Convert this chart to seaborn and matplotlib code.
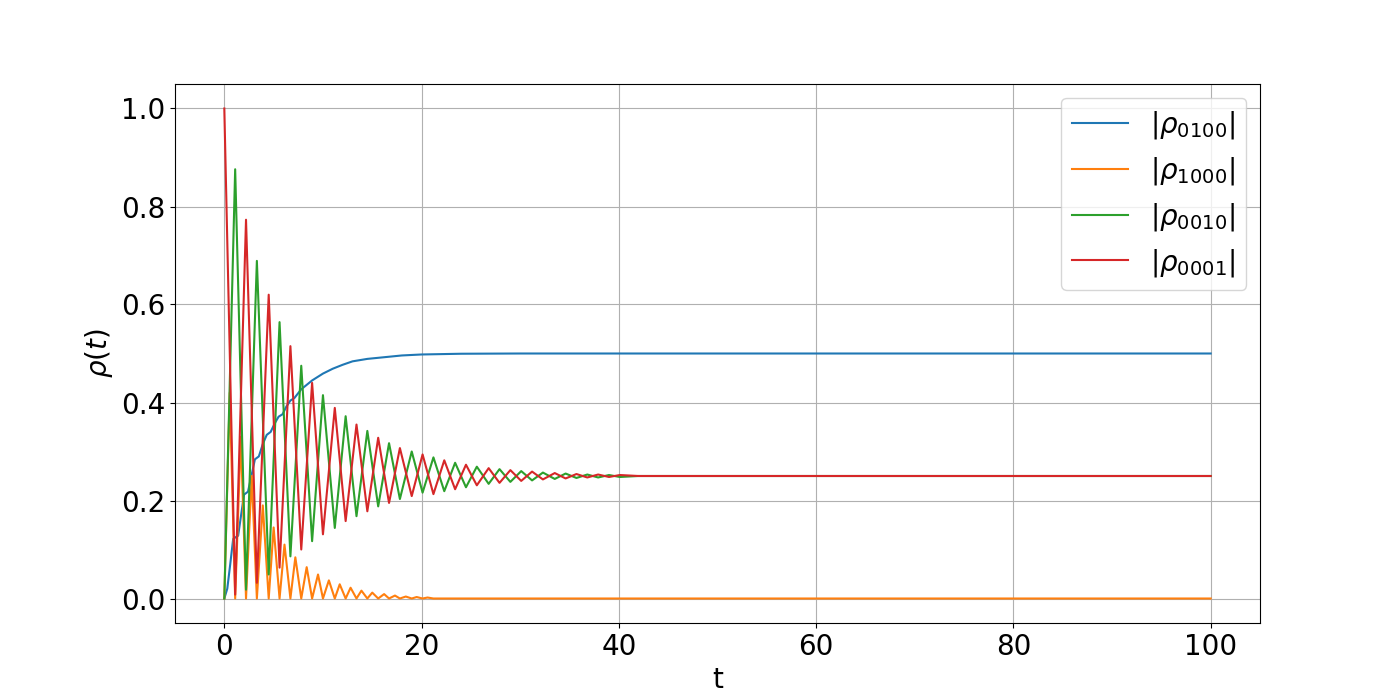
import matplotlib
matplotlib.use("Agg")
import matplotlib.pyplot as plt
import seaborn as sns
import pandas as pd

# extrema of the red / green oscillation (half period apart)
t_osc = [0, 1.1, 2.2, 3.3, 4.5, 5.6, 6.7, 7.8, 8.9, 10.0, 11.2, 12.3, 13.4, 14.5,
         15.6, 16.7, 17.8, 19.0, 20.1, 21.2, 22.3, 23.4, 24.5, 25.6, 26.8, 27.9,
         29.0, 30.1, 31.2, 32.3, 33.5, 34.6, 35.7, 36.8, 37.9, 39.0, 40.1, 42.0, 100]
rho_0001 = [1.000, 0.008, 0.773, 0.032, 0.620, 0.063, 0.515, 0.100, 0.440, 0.131,
            0.389, 0.158, 0.355, 0.178, 0.328, 0.195, 0.307, 0.209, 0.294, 0.213,
            0.282, 0.223, 0.273, 0.231, 0.266, 0.236, 0.262, 0.240, 0.259, 0.243,
            0.256, 0.245, 0.254, 0.247, 0.253, 0.248, 0.252, 0.250, 0.250]
rho_0010 = [0.000, 0.876, 0.018, 0.689, 0.049, 0.564, 0.086, 0.475, 0.117, 0.415,
            0.144, 0.372, 0.168, 0.342, 0.188, 0.317, 0.203, 0.300, 0.216, 0.288,
            0.219, 0.277, 0.227, 0.269, 0.234, 0.264, 0.238, 0.260, 0.241, 0.257,
            0.244, 0.255, 0.246, 0.253, 0.247, 0.252, 0.248, 0.250, 0.250]

# |rho_1000|: bounces off zero, peaks in between
t_1000 = [0, 0.55, 1.1, 1.67, 2.2, 2.78, 3.3, 3.9, 4.5, 5.0, 5.6, 6.1, 6.7, 7.2,
          7.8, 8.35, 8.9, 9.5, 10.0, 10.6, 11.2, 11.7, 12.3, 12.8, 13.4, 13.9,
          14.5, 15.0, 15.6, 16.2, 16.7, 17.3, 17.8, 18.4, 19.0, 19.5, 20.1, 20.6,
          21.2, 100]
rho_1000 = [0, 0.42, 0, 0.33, 0, 0.25, 0, 0.19, 0, 0.145, 0, 0.110, 0, 0.084,
            0, 0.064, 0, 0.049, 0, 0.037, 0, 0.029, 0, 0.022, 0, 0.016,
            0, 0.012, 0, 0.009, 0, 0.006, 0, 0.004, 0, 0.003, 0, 0.002,
            0, 0]

# |rho_0100|: stepwise rise to 0.5
t_0100 = [0, 0.3, 0.6, 0.9, 1.4, 1.7, 2.0, 2.4, 2.8, 3.1, 3.5, 3.9, 4.3, 4.7,
          5.1, 5.5, 5.9, 6.3, 6.7, 7.1, 7.8, 8.9, 10.0, 11.0, 12.0, 13.0, 14.5,
          16.5, 18.0, 20.0, 24.0, 30.0, 100]
rho_0100 = [0, 0.02, 0.07, 0.122, 0.128, 0.17, 0.212, 0.218, 0.255, 0.284, 0.290,
            0.315, 0.334, 0.340, 0.357, 0.371, 0.376, 0.392, 0.404, 0.409, 0.427,
            0.445, 0.459, 0.469, 0.477, 0.484, 0.489, 0.493, 0.496, 0.498, 0.4995,
            0.5, 0.5]

series = [
    (t_0100, rho_0100, r"$|\rho_{0100}|$", "tab:blue"),
    (t_1000, rho_1000, r"$|\rho_{1000}|$", "tab:orange"),
    (t_osc, rho_0010, r"$|\rho_{0010}|$", "tab:green"),
    (t_osc, rho_0001, r"$|\rho_{0001}|$", "tab:red"),
]

fig, ax = plt.subplots(figsize=(14, 7), dpi=100)
for t, r, lab, col in series:
    df = pd.DataFrame({"t": t, "rho": r})
    sns.lineplot(data=df, x="t", y="rho", ax=ax, color=col, label=lab,
                 linewidth=1.5, estimator=None)

ax.set_xlabel("t", fontsize=20)
ax.set_ylabel(r"$\rho(t)$", fontsize=20)
ax.tick_params(labelsize=20)
ax.grid(True)
ax.legend(fontsize=20, loc="upper right")
plt.savefig("out.png")
